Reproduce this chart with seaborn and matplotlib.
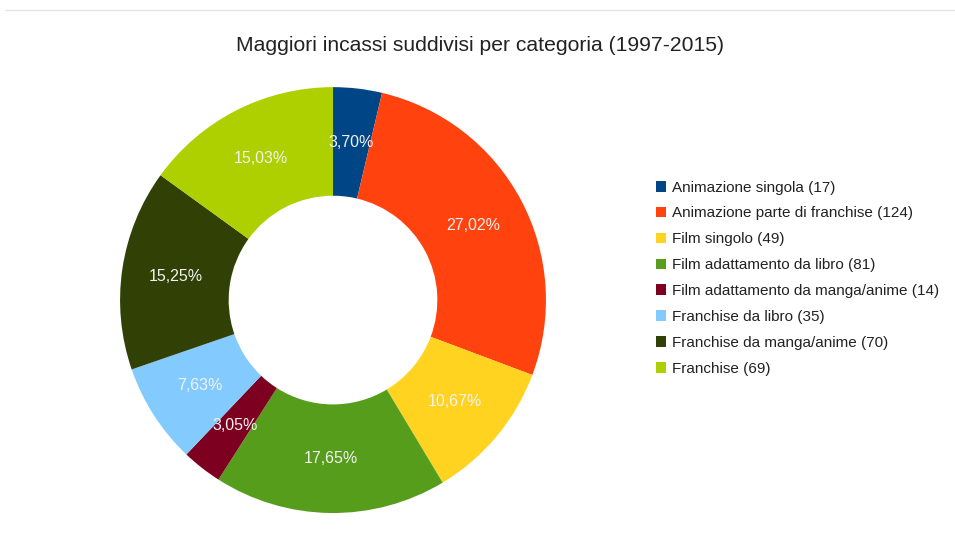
import matplotlib
matplotlib.use("Agg")
import numpy as np
import matplotlib.pyplot as plt
from matplotlib.patches import Patch
from matplotlib.lines import Line2D
import seaborn as sns

# Categories, film counts and their share of the total (%)
categories = [
    "Animazione singola",
    "Animazione parte di franchise",
    "Film singolo",
    "Film adattamento da libro",
    "Film adattamento da manga/anime",
    "Franchise da libro",
    "Franchise da manga/anime",
    "Franchise",
]
counts = [17, 124, 49, 81, 14, 35, 70, 69]
shares = [3.70, 27.02, 10.67, 17.65, 3.05, 7.63, 15.25, 15.03]
colors = ["#004586", "#ff420e", "#ffd320", "#579d1c",
          "#7e0021", "#83caff", "#314004", "#aecf00"]

sns.set_theme(style="white")
plt.rcParams["font.family"] = ["Liberation Sans", "DejaVu Sans"]

fig = plt.figure(figsize=(9.55, 5.33), dpi=100)
ax = fig.add_axes([0.1257, 0.0375, 0.446, 0.799])

wedges, texts = ax.pie(
    shares,
    colors=colors,
    startangle=90,
    counterclock=False,
    radius=1.0,
    wedgeprops=dict(width=0.51, edgecolor="none"),
)

# percentage labels at the middle of the ring
cum = np.cumsum([0] + shares[:-1])
for start, s in zip(cum, shares):
    ang = np.deg2rad(90 - (start + s / 2) / 100 * 360)
    r = 0.745
    ax.text(r * np.cos(ang), r * np.sin(ang),
            f"{s:.2f}".replace(".", ",") + "%",
            ha="center", va="center", color="#f2f2f2", fontsize=11.5)

ax.set_xlim(-1, 1)
ax.set_ylim(-1, 1)
ax.set_aspect("equal")
ax.axis("off")

fig.text(0.503, 0.915, "Maggiori incassi suddivisi per categoria (1997-2015)",
         ha="center", va="center", fontsize=15.2, color="#222222")

# faint separator across the top
fig.add_artist(Line2D([0.005, 1.0], [0.981, 0.981], color="#e4e4e4", lw=1,
                      transform=fig.transFigure))

handles = [Patch(facecolor=c, edgecolor="none") for c in colors]
labels = [f"{c} ({n})" for c, n in zip(categories, counts)]
fig.legend(handles, labels, loc="center left", bbox_to_anchor=(0.68, 0.478),
           frameon=False, fontsize=11, handlelength=0.7, handleheight=0.7,
           handletextpad=0.35, labelspacing=0.78, borderaxespad=0,
           labelcolor="#222222")

fig.savefig("out.png", dpi=100, facecolor="white")
